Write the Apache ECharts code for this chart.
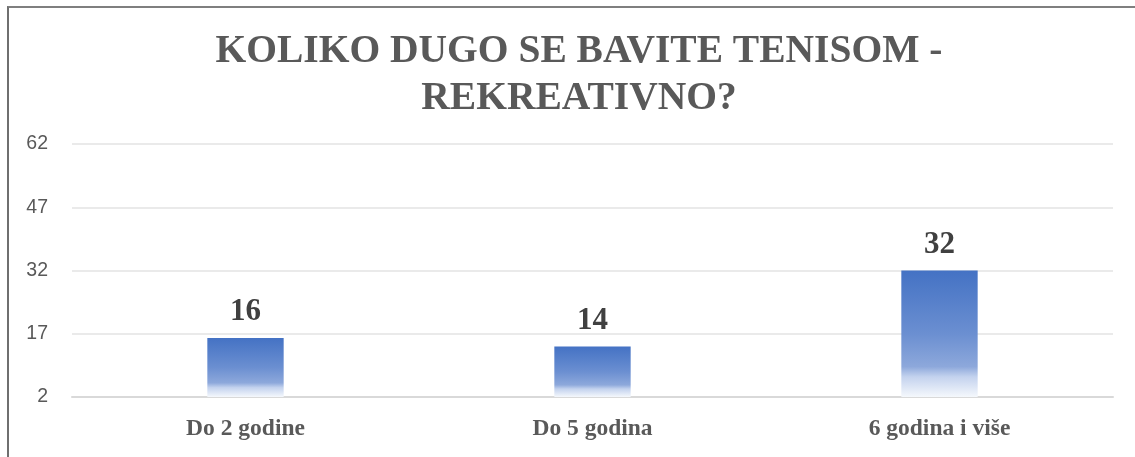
<!DOCTYPE html>
<html>
<head>
<meta charset="utf-8">
<script src="https://cdn.jsdelivr.net/npm/echarts@6/dist/echarts.min.js"></script>
<style>
html,body{margin:0;padding:0;background:#fff;overflow:hidden;}
#frame{position:absolute;left:7px;top:6px;width:1200px;height:500px;border-top:2px solid #7f7f7f;border-left:2px solid #6f6f6f;box-sizing:border-box;}
#chart{position:absolute;left:0;top:0;width:1135px;height:457px;}
</style>
</head>
<body>
<div id="frame"></div>
<div id="chart"></div>
<script>
const titleText = 'KOLIKO DUGO SE BAVITE TENISOM -\nREKREATIVNO?';
const categories = ['Do 2 godine', 'Do 5 godina', '6 godina i više'];
const values = [16, 14, 32];
const yMin = 2, yMax = 62, yStep = 15;

const chart = echarts.init(document.getElementById('chart'), null, {renderer: 'canvas'});
chart.setOption({
  animation: false,
  backgroundColor: 'transparent',
  title: {
    text: titleText,
    left: 574,
    textAlign: 'center',
    top: 23,
    textStyle: {
      fontFamily: 'Liberation Serif',
      fontWeight: 'bold',
      fontSize: 39.5,
      lineHeight: 47,
      color: '#595959'
    }
  },
  grid: {left: 72, right: 22, top: 144, bottom: 60, containLabel: false},
  xAxis: {
    type: 'category',
    data: categories,
    axisLine: {show: true, lineStyle: {color: '#d9d9d9', width: 2}},
    axisTick: {show: false},
    axisLabel: {
      margin: 20,
      fontFamily: 'Liberation Serif',
      fontWeight: 'bold',
      fontSize: 23.5,
      color: '#595959'
    }
  },
  yAxis: {
    type: 'value',
    min: yMin, max: yMax, interval: yStep,
    axisLine: {show: false},
    axisTick: {show: false},
    splitLine: {lineStyle: {color: '#e3e3e3', width: 1.5}},
    axisLabel: {
      margin: 24,
      fontFamily: 'Liberation Sans',
      fontSize: 19.5,
      color: '#595959'
    }
  },
  series: [{
    type: 'bar',
    data: values,
    barWidth: '22%',
    itemStyle: {
      color: new echarts.graphic.LinearGradient(0, 0, 0, 1, [
        {offset: 0, color: '#4472C4'},
        {offset: 0.5, color: '#6B8FD1'},
        {offset: 0.76, color: '#8DA8DB'},
        {offset: 0.84, color: '#C3D2EE'},
        {offset: 1, color: '#F5F8FC'}
      ])
    },
    label: {
      show: true,
      position: 'top',
      distance: 10,
      fontFamily: 'Liberation Serif',
      fontWeight: 'bold',
      fontSize: 31,
      color: '#404040'
    }
  }]
});
</script>
</body>
</html>
